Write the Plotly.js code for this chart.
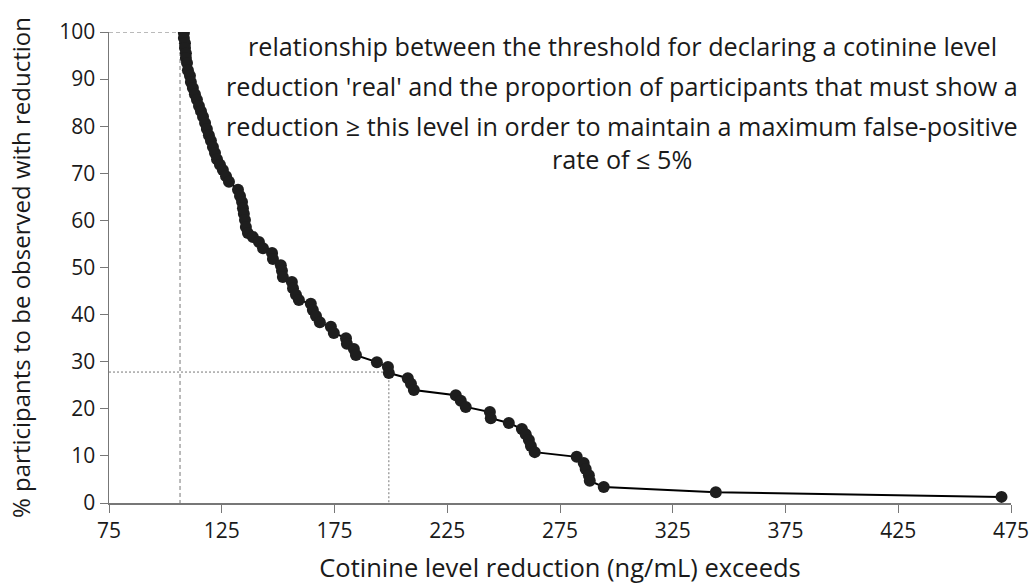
<!DOCTYPE html>
<html>
<head>
<meta charset="utf-8">
<script src="https://cdn.plot.ly/plotly-3.0.1.min.js"></script>
<style>html,body{margin:0;padding:0;background:#fff;}#chart{width:1031px;height:587px;}</style>
</head>
<body>
<div id="chart"></div>
<script>
// Cotinine level reduction threshold (ng/mL)
const reductionX = [108.2,108.2,108.7,108.7,109.1,109.1,109.6,110.0,110.9,111.3,112.2,113.1,114.0,114.9,115.8,116.7,117.6,118.4,119.3,120.2,121.1,122.0,122.9,124.2,125.5,126.9,128.2,132.2,133.1,134.0,134.4,134.8,135.3,135.7,136.6,138.8,141.5,143.3,147.3,147.7,151.2,151.7,152.1,156.1,156.6,157.9,159.2,164.5,165.4,166.8,168.5,173.4,174.7,180.1,180.5,183.6,184.5,193.8,198.7,199.1,207.5,208.9,210.2,228.8,231.0,233.2,243.9,244.3,252.3,258.1,259.8,261.2,262.1,263.8,282.4,285.5,286.4,287.8,288.2,294.4,344.1,470.8];
// % participants to be observed with reduction
const participantsPct = [99.8,98.7,97.6,96.6,95.5,94.5,93.4,91.9,90.7,89.4,88.1,86.8,85.6,84.3,83.2,82.0,80.7,79.4,78.1,76.9,75.6,74.3,73.0,71.8,70.7,69.4,68.2,66.5,65.2,63.9,62.6,61.4,60.1,58.6,57.3,56.5,55.4,54.1,53.1,51.8,50.5,49.3,48.0,46.9,45.6,44.2,43.1,42.3,41.0,39.7,38.4,37.4,36.1,35.0,33.8,32.7,31.4,29.9,28.9,27.6,26.5,25.3,24.0,22.9,21.7,20.4,19.3,18.0,17.0,15.7,14.6,13.4,12.1,10.8,9.8,8.5,7.2,5.9,4.7,3.4,2.3,1.3];
// reference guide lines
const guide1X = [75, 106.5, 106.5];
const guide1Y = [100, 100, 0];
const guide2X = [75, 199.1, 199.1];
const guide2Y = [27.8, 27.8, 0];
const xTicks = [75,125,175,225,275,325,375,425,475];
const yTicks = [0,10,20,30,40,50,60,70,80,90,100];
const noteLines = [
  "relationship between the threshold for declaring a cotinine level",
  "reduction 'real' and the proportion of participants that must show a",
  "reduction \u2265 this level in order to maintain a maximum false-positive",
  "rate of \u2264 5%"
];

const font = "Open Sans, Liberation Sans, sans-serif";
const traces = [
  {x: guide1X, y: guide1Y, mode: 'lines', line: {color: '#777', width: 1, dash: '4px,3px'}, hoverinfo: 'skip'},
  {x: guide2X, y: guide2Y, mode: 'lines', line: {color: '#777', width: 1, dash: '2px,2px'}, hoverinfo: 'skip'},
  {x: reductionX, y: participantsPct, mode: 'lines+markers',
   line: {color: '#000', width: 2}, marker: {color: '#1e1e1e', size: 12}}
];
const noteY = [0.97, 0.885, 0.80, 0.73];
const layout = {
  width: 1031, height: 587,
  margin: {l: 109, r: 20, t: 32, b: 84},
  showlegend: false,
  paper_bgcolor: '#fff', plot_bgcolor: '#fff',
  font: {family: font, color: '#1a1a1a', size: 21},
  xaxis: {range: [75, 475], tickvals: xTicks, ticktext: xTicks.map(String),
    showgrid: false, zeroline: false, showline: true, linecolor: '#777', linewidth: 1.5,
    ticks: 'outside', ticklen: 8, tickcolor: '#777', tickfont: {size: 21},
    title: {text: 'Cotinine level reduction (ng/mL) exceeds', font: {size: 25.5}, standoff: 16}},
  yaxis: {range: [0, 100], tickvals: yTicks, ticktext: yTicks.map(String),
    showgrid: false, zeroline: false, showline: true, linecolor: '#777', linewidth: 1.5,
    ticks: 'outside', ticklen: 8, tickcolor: '#777', tickfont: {size: 21},
    title: {text: '% participants to be observed with reduction', font: {size: 24}, standoff: 22}},
  annotations: noteLines.map((t, i) => ({
    xref: 'paper', yref: 'paper', x: 0.569, y: noteY[i], xanchor: 'center', yanchor: 'middle',
    showarrow: false, text: t, font: {size: 25.2, family: font, color: '#1a1a1a'}
  }))
};
Plotly.newPlot('chart', traces, layout, {displayModeBar: false, staticPlot: true});
</script>
</body>
</html>
